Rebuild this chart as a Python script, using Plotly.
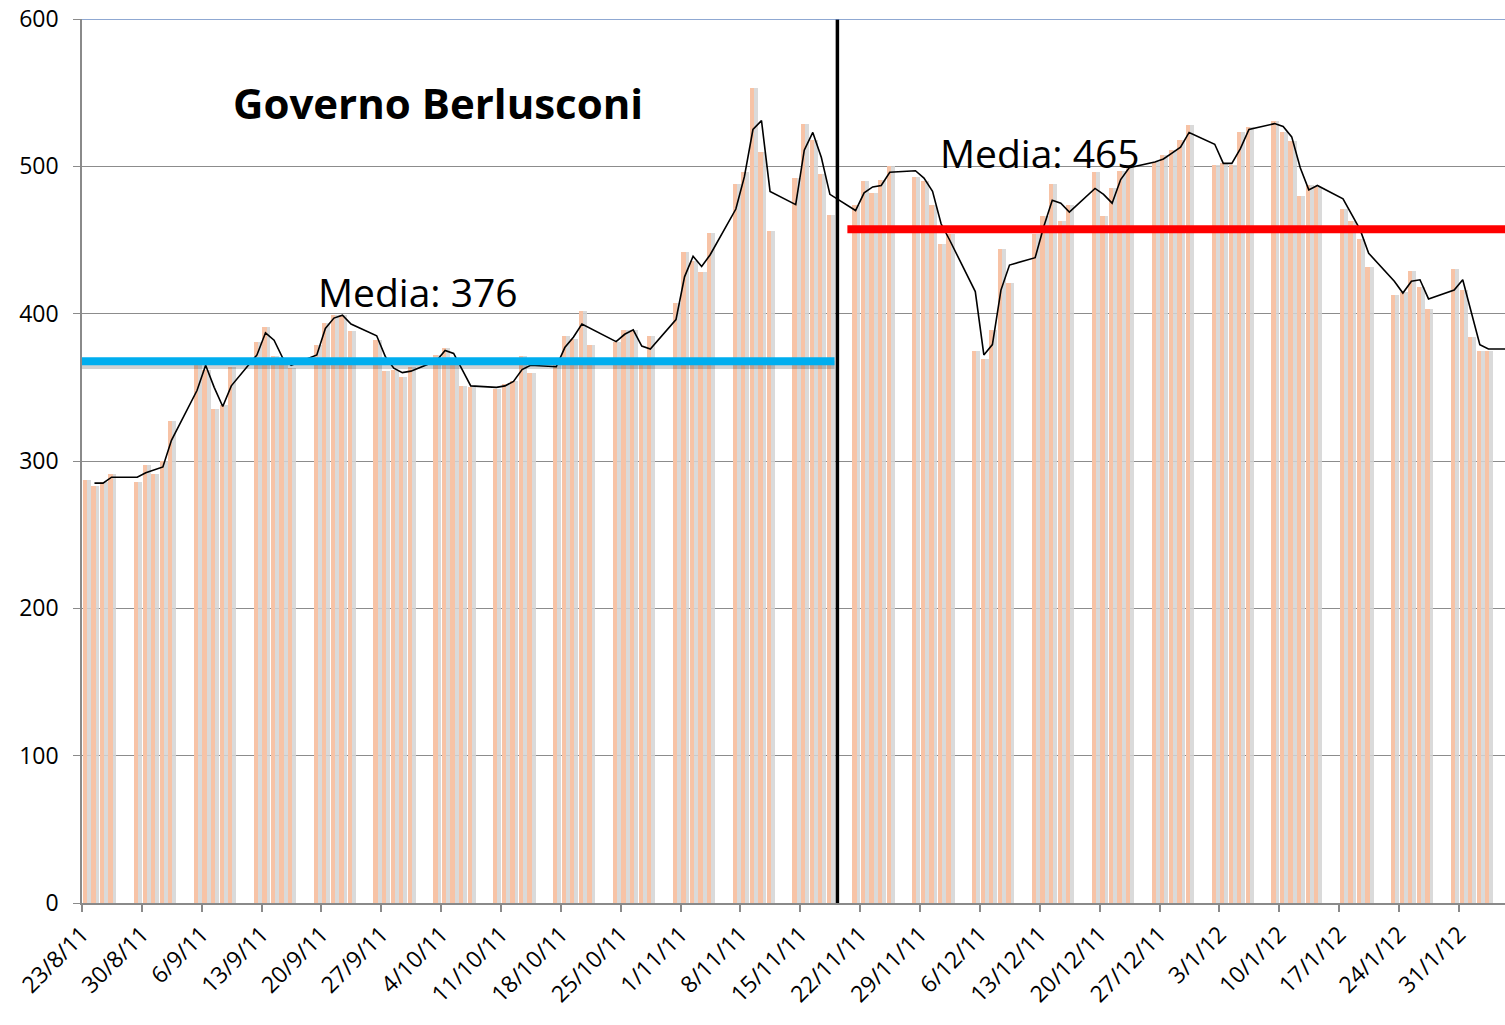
import plotly.graph_objects as go
import pandas as pd

# ---- data (spread BTP-Bund, punti base) ----
date = [
    '2011-08-23', '2011-08-24', '2011-08-25', '2011-08-26',
    '2011-08-29', '2011-08-30', '2011-08-31', '2011-09-01', '2011-09-02',
    '2011-09-05', '2011-09-06', '2011-09-07', '2011-09-08', '2011-09-09',
    '2011-09-12', '2011-09-13', '2011-09-14', '2011-09-15', '2011-09-16',
    '2011-09-19', '2011-09-20', '2011-09-21', '2011-09-22', '2011-09-23',
    '2011-09-26', '2011-09-27', '2011-09-28', '2011-09-29', '2011-09-30',
    '2011-10-03', '2011-10-04', '2011-10-05', '2011-10-06', '2011-10-07',
    '2011-10-10', '2011-10-11', '2011-10-12', '2011-10-13', '2011-10-14',
    '2011-10-17', '2011-10-18', '2011-10-19', '2011-10-20', '2011-10-21',
    '2011-10-24', '2011-10-25', '2011-10-26', '2011-10-27', '2011-10-28',
    '2011-10-31', '2011-11-01', '2011-11-02', '2011-11-03', '2011-11-04',
    '2011-11-07', '2011-11-08', '2011-11-09', '2011-11-10', '2011-11-11',
    '2011-11-14', '2011-11-15', '2011-11-16', '2011-11-17', '2011-11-18',
    '2011-11-21', '2011-11-22', '2011-11-23', '2011-11-24', '2011-11-25',
    '2011-11-28', '2011-11-29', '2011-11-30', '2011-12-01', '2011-12-02',
    '2011-12-05', '2011-12-06', '2011-12-07', '2011-12-08', '2011-12-09',
    '2011-12-12', '2011-12-13', '2011-12-14', '2011-12-15', '2011-12-16',
    '2011-12-19', '2011-12-20', '2011-12-21', '2011-12-22', '2011-12-23',
    '2011-12-26', '2011-12-27', '2011-12-28', '2011-12-29', '2011-12-30',
    '2012-01-02', '2012-01-03', '2012-01-04', '2012-01-05', '2012-01-06',
    '2012-01-09', '2012-01-10', '2012-01-11', '2012-01-12', '2012-01-13', '2012-01-14',
    '2012-01-17', '2012-01-18', '2012-01-19', '2012-01-20',
    '2012-01-23', '2012-01-24', '2012-01-25', '2012-01-26', '2012-01-27',
    '2012-01-30', '2012-01-31', '2012-02-01', '2012-02-02', '2012-02-03',
    '2012-02-06',
]

spread = [
    287, 283, 286, 291,
    286, 297, 291, 300, 327,
    367, 362, 335, 338, 364,
    381, 391, 371, 368, 363,
    379, 394, 399, 399, 388,
    382, 361, 362, 357, 364,
    372, 377, 370, 351, 350,
    349, 352, 354, 371, 360,
    368, 385, 383, 402, 379,
    381, 389, 389, 367, 385,
    407, 442, 436, 428, 455,
    488, 496, 553, 510, 456,
    492, 529, 518, 495, 467,
    474, 490, 482, 491, 500,
    493, 490, 474, 447, 454,
    375, 369, 389, 444, 421,
    454, 466, 488, 463, 474,
    496, 466, 485, 497, 501,
    503, 508, 511, 518, 528,
    501, 502, 501, 523, 527,
    531, 523, 517, 480, 487, 486,
    471, 463, 451, 432,
    413, 415, 429, 418, 403,
    430, 416, 384, 375, 375,
    377,
]

media_mobile = [
    None, 285, 285, 289,
    289, 292, 294, 296, 314,
    348, 365, 350, 337, 351,
    372, 387, 382, 370, 365,
    372, 390, 397, 399, 393,
    385, 371, 363, 360, 361,
    368, 375, 373, 362, 351,
    350, 351, 354, 362, 365,
    364, 377, 384, 393, 390,
    381, 386, 389, 378, 376,
    396, 425, 439, 432, 440,
    471, 493, 525, 531, 483,
    474, 511, 523, 506, 481,
    470, 482, 486, 487, 496,
    497, 492, 483, 461, 450,
    415, 372, 379, 416, 433,
    438, 459, 477, 475, 469,
    485, 481, 475, 491, 499,
    503, 505, 509, 513, 523,
    515, 502, 502, 512, 525,
    529, 527, 520, 499, 484, 487,
    478, 467, 457, 441,
    422, 414, 422, 423, 410,
    416, 423, 401, 379, 376,
    376,
]

# mean levels as drawn
media_berlusconi = 367.7
media_monti = 457.3
periodo_berlusconi = ['2011-08-22 20:00', '2011-11-19 00:00']
periodo_monti = ['2011-11-20 12:00', '2012-02-06 00:00']
fine_governo = '2011-11-19 08:00'

y_ticks = [0, 100, 200, 300, 400, 500, 600]

DAY = 86400000
x = pd.to_datetime(date)
x_line = x + pd.Timedelta(hours=11)

fig = go.Figure()

# bar shadow
fig.add_trace(go.Bar(
    x=x, y=spread, width=0.47 * DAY, offset=0.56 * DAY,
    marker=dict(color='rgba(212,212,212,0.85)', line=dict(width=0)),
    hoverinfo='skip'))
# bars
fig.add_trace(go.Bar(
    x=x, y=spread, width=0.5 * DAY, offset=0.08 * DAY,
    marker=dict(color='#F7C3A6', line=dict(width=0)),
    name='Spread'))
# moving average line
fig.add_trace(go.Scatter(
    x=x_line, y=media_mobile, mode='lines',
    line=dict(color='black', width=1.6), connectgaps=False, name='Media mobile'))

# mean lines (with soft shadow under the blue one)
fig.add_trace(go.Scatter(
    x=pd.to_datetime(periodo_berlusconi), y=[media_berlusconi - 2.6] * 2, mode='lines',
    line=dict(color='rgba(0,0,0,0.18)', width=8), hoverinfo='skip'))
fig.add_trace(go.Scatter(
    x=pd.to_datetime(periodo_berlusconi), y=[media_berlusconi] * 2, mode='lines',
    line=dict(color='#00AEEF', width=8), name='Media Berlusconi'))
fig.add_trace(go.Scatter(
    x=pd.to_datetime(periodo_monti), y=[media_monti] * 2, mode='lines',
    line=dict(color='#FF0000', width=8), name='Media Monti'))

# vertical separator
fig.add_shape(type='line', xref='x', yref='y', x0=fine_governo, x1=fine_governo,
              y0=-8, y1=600, line=dict(color='black', width=3.5), layer='above')
# top border
fig.add_shape(type='line', xref='paper', yref='y', x0=0, x1=1, y0=600, y1=600,
              line=dict(color='#6A8BC3', width=1.3), layer='above')

TXT = 'Open Sans'
fig.add_annotation(text='<b>Governo Berlusconi</b>', xref='paper', yref='paper',
                   x=0.250, y=0.905, xanchor='center', yanchor='middle', showarrow=False,
                   font=dict(family=TXT, size=42, color='black'))
fig.add_annotation(text='Media: 376', xref='paper', yref='paper',
                   x=0.2358, y=0.692, xanchor='center', yanchor='middle', showarrow=False,
                   font=dict(family=TXT, size=39, color='black'))
fig.add_annotation(text='Media: 465', xref='paper', yref='paper',
                   x=0.673, y=0.8495, xanchor='center', yanchor='middle', showarrow=False,
                   font=dict(family=TXT, size=39, color='black'))

fig.update_layout(
    width=1505, height=1025,
    margin=dict(l=82, r=0, t=19, b=122, autoexpand=False),
    plot_bgcolor='white', paper_bgcolor='white',
    showlegend=False, barmode='overlay', bargap=0,
    font=dict(family=TXT, size=22, color='black'),
)
fig.update_xaxes(
    type='date', range=['2011-08-23', '2012-02-05 09:36'], automargin=False,
    tick0='2011-08-23', dtick=7 * DAY, tickformat='%-d/%-m/%y', tickangle=-45,
    ticks='outside', ticklen=7, tickcolor='#8A8A8A', tickwidth=1.5,
    showline=True, linecolor='#8A8A8A', linewidth=1.5, ticklabeloverflow='allow',
    showgrid=False, tickfont=dict(family=TXT, size=23, color='black'),
)
fig.update_yaxes(
    range=[0, 600], tickvals=y_ticks, ticks='outside', ticklen=7, automargin=False,
    tickcolor='#8A8A8A', tickwidth=1.2, ticklabeloverflow='allow',
    showline=True, linecolor='#8A8A8A', linewidth=1.5,
    showgrid=True, gridcolor='#8C8C8C', gridwidth=1, zeroline=False,
    tickfont=dict(family=TXT, size=23, color='black'), ticklabelstandoff=10,
)

# remove the default 8px page margin so the figure fills the window exactly
fig.write_html(
    'out.html',
    config={'displayModeBar': False},
    post_script="document.body.style.margin='0';"
                "document.documentElement.style.overflow='hidden';",
)
